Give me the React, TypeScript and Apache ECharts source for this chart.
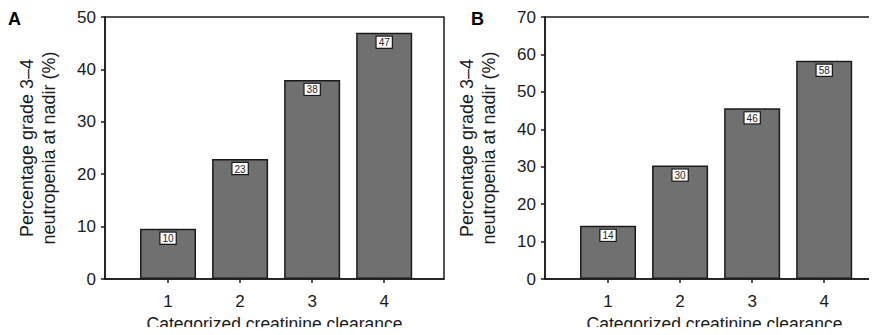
import React, { useEffect, useRef } from "react";
import * as echarts from "echarts";

const categories = [1, 2, 3, 4];
const valuesA = [9.6, 22.9, 38, 47];
const labelsA = ["10", "23", "38", "47"];
const valuesB = [14.2, 30.3, 45.6, 58.3];
const labelsB = ["14", "30", "46", "58"];
const yTicksA = { min: 0, max: 50, interval: 10 };
const yTicksB = { min: 0, max: 70, interval: 10 };
const xTitle = "Categorized creatinine clearance";
const yTitle = "Percentage grade 3\u20134\nneutropenia at nadir (%)";
const panelLetters = ["A", "B"];

const FONT = "'Liberation Sans', Arial, Helvetica, sans-serif";
const INK = "#1a1a1a";

export default function App() {
  const ref = useRef<HTMLDivElement>(null);
  useEffect(() => {
    if (!ref.current) return;
    const chart = echarts.init(ref.current, undefined, { renderer: "svg" });
    const lefts = [105, 545];
    const grids = lefts.map((l) => ({
      left: l,
      top: 17,
      width: 339,
      height: 262,
      outerBoundsMode: "none",
      containLabel: false,
      show: true,
      borderColor: INK,
      borderWidth: 1.5,
      backgroundColor: "transparent",
    }));
    const xAxes = [0, 1].map((i) => ({
      type: "value",
      gridIndex: i,
      min: 0.125,
      max: 4.83,
      name: xTitle,
      nameLocation: "middle",
      nameGap: 35,
      nameTextStyle: { fontFamily: FONT, fontSize: 17.5, color: INK, lineHeight: 18 },
      axisLine: { show: true, lineStyle: { color: INK, width: 1.5 } },
      axisTick: { show: true, length: 4, customValues: categories, lineStyle: { color: INK, width: 1.5 } },
      axisLabel: {
        customValues: categories,
        fontFamily: FONT,
        fontSize: 17,
        color: INK,
        margin: 14,
      },
      splitLine: { show: false },
    }));
    const yAxes = [yTicksA, yTicksB].map((t, i) => ({
      type: "value",
      gridIndex: i,
      min: t.min,
      max: t.max,
      interval: t.interval,
      name: yTitle,
      nameLocation: "middle",
      nameGap: 45,
      nameRotate: 90,
      nameTextStyle: { fontFamily: FONT, fontSize: 18, color: INK, lineHeight: 22 },
      axisLine: { show: true, lineStyle: { color: INK, width: 1.5 } },
      axisTick: { show: true, length: 4, lineStyle: { color: INK, width: 1.5 } },
      axisLabel: { fontFamily: FONT, fontSize: 17, color: INK, margin: 9 },
      splitLine: { show: false },
    }));
    const mkSeries = (vals: number[], labs: string[], i: number) => ({
      type: "bar",
      xAxisIndex: i,
      yAxisIndex: i,
      barWidth: 56,
      data: vals.map((v, k) => [categories[k], v]),
      itemStyle: { color: "#707070", borderColor: INK, borderWidth: 1.5 },
      label: {
        show: true,
        position: "insideTop",
        distance: 4,
        formatter: (p: any) => labs[p.dataIndex],
        fontFamily: FONT,
        fontSize: 10,
        color: "#222",
        backgroundColor: "#fff",
        borderColor: INK,
        borderWidth: 1.2,
        padding: [1, 2, 0, 2],
      },
    });
    chart.setOption({
      animation: false,
      backgroundColor: "#fff",
      grid: grids,
      xAxis: xAxes,
      yAxis: yAxes,
      series: [mkSeries(valuesA, labelsA, 0), mkSeries(valuesB, labelsB, 1)],
      graphic: [
        {
          type: "text",
          left: 8,
          top: 10,
          style: { text: panelLetters[0], font: `bold 18px ${FONT}`, fill: "#000" },
        },
        {
          type: "text",
          left: 471,
          top: 10,
          style: { text: panelLetters[1], font: `bold 18px ${FONT}`, fill: "#000" },
        },
      ],
    });
    return () => chart.dispose();
  }, []);
  return <div ref={ref} style={{ width: 877, height: 335, margin: -8 }} />;
}
